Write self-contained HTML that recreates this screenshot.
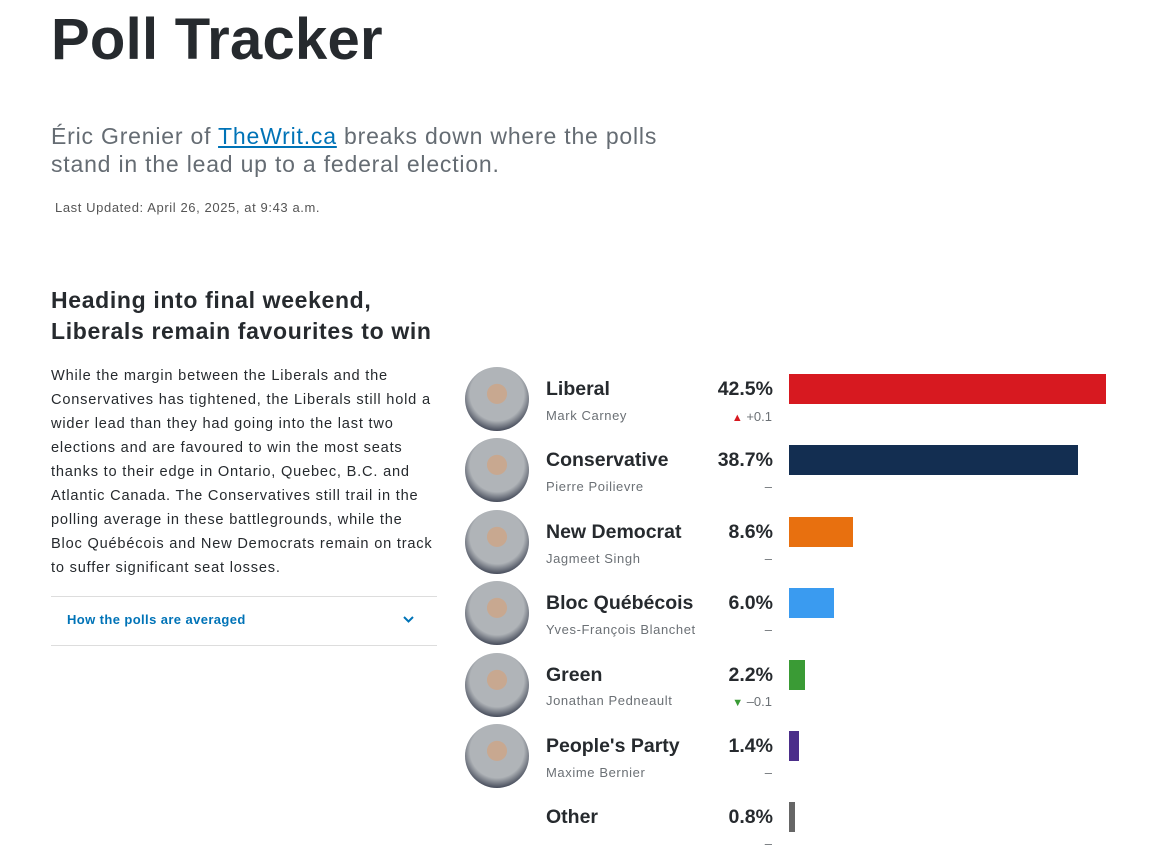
<!DOCTYPE html>
<html><head><meta charset="utf-8"><style>
body{margin:0;width:1152px;height:856px;background:#fff;font-family:"Liberation Sans",sans-serif;color:#262a2e;position:relative;overflow:hidden}
.a{position:absolute;white-space:nowrap}
h1{position:absolute;left:51px;top:6px;margin:0;font-size:58px;font-weight:bold;letter-spacing:0.25px;color:#262a2e}
.sub{left:51px;top:122px;font-size:23px;line-height:28px;color:#656c73;letter-spacing:0.8px}
.sub a{color:#0073b7;text-decoration:underline}
.upd{left:55px;top:200px;font-size:13px;color:#555;letter-spacing:0.6px}
.hd{left:51px;top:285px;font-size:23px;line-height:31px;font-weight:bold;letter-spacing:0.65px}
.body{left:51px;top:364px;font-size:14.6px;line-height:24px;color:#262a2e;letter-spacing:0.8px}
.line{position:absolute;left:51px;width:386px;height:1px;background:#ddd}
.how{left:67px;top:612px;font-size:13px;font-weight:bold;color:#0073b7;letter-spacing:0.4px}
.av{position:absolute;left:465px;width:64px;height:64px;border-radius:50%;background:radial-gradient(circle at 50% 42%,#c8a890 0 20%,#b0b4b8 21% 55%,#3a4050 78%);}
.pn{position:absolute;left:546px;font-size:19.5px;font-weight:bold}
.nm{position:absolute;left:546px;font-size:13px;color:#6b7075;letter-spacing:0.6px}
.pc{position:absolute;right:379px;font-size:19.5px;font-weight:bold;text-align:right}
.ch{position:absolute;right:380px;font-size:13px;color:#6b7075;text-align:right}
.bar{position:absolute;left:789px;height:30px}
</style></head><body>
<h1>Poll Tracker</h1>
<div class="a sub">Éric Grenier of <a>TheWrit.ca</a> breaks down where the polls<br>stand in the lead up to a federal election.</div>
<div class="a upd">Last Updated: April 26, 2025, at 9:43 a.m.</div>
<div class="a hd">Heading into final weekend,<br>Liberals remain favourites to win</div>
<div class="a body">While the margin between the Liberals and the<br>Conservatives has tightened, the Liberals still hold a<br>wider lead than they had going into the last two<br>elections and are favoured to win the most seats<br>thanks to their edge in Ontario, Quebec, B.C. and<br>Atlantic Canada. The Conservatives still trail in the<br>polling average in these battlegrounds, while the<br>Bloc Québécois and New Democrats remain on track<br>to suffer significant seat losses.</div>
<div class="line" style="top:596px"></div>
<div class="line" style="top:645px"></div>
<div class="a how">How the polls are averaged</div>
<svg class="a" style="left:402px;top:615px" width="13" height="10"><path d="M2 2l4.5 4.5L11 2" stroke="#0073b7" stroke-width="2" fill="none"/></svg>

<div class="av" style="top:367px"></div>
<div class="pn" style="top:378px">Liberal</div><div class="nm" style="top:408px">Mark Carney</div>
<div class="pc" style="top:378px">42.5%</div><div class="ch" style="top:409px"><span style="color:#d71920;font-size:11px">▲</span> +0.1</div>
<div class="bar" style="top:374px;width:317px;background:#d71920"></div>

<div class="av" style="top:438px"></div>
<div class="pn" style="top:449px">Conservative</div><div class="nm" style="top:479px">Pierre Poilievre</div>
<div class="pc" style="top:449px">38.7%</div><div class="ch" style="top:479px">–</div>
<div class="bar" style="top:445px;width:289px;background:#132e51"></div>

<div class="av" style="top:510px"></div>
<div class="pn" style="top:521px">New Democrat</div><div class="nm" style="top:551px">Jagmeet Singh</div>
<div class="pc" style="top:521px">8.6%</div><div class="ch" style="top:551px">–</div>
<div class="bar" style="top:517px;width:64px;background:#e8700f"></div>

<div class="av" style="top:581px"></div>
<div class="pn" style="top:592px">Bloc Québécois</div><div class="nm" style="top:622px">Yves-François Blanchet</div>
<div class="pc" style="top:592px">6.0%</div><div class="ch" style="top:622px">–</div>
<div class="bar" style="top:588px;width:45px;background:#3a9bf0"></div>

<div class="av" style="top:653px"></div>
<div class="pn" style="top:664px">Green</div><div class="nm" style="top:693px">Jonathan Pedneault</div>
<div class="pc" style="top:664px">2.2%</div><div class="ch" style="top:694px"><span style="color:#3a9b35;font-size:11px">▼</span> –0.1</div>
<div class="bar" style="top:660px;width:16px;background:#3a9b35"></div>

<div class="av" style="top:724px"></div>
<div class="pn" style="top:735px">People's Party</div><div class="nm" style="top:765px">Maxime Bernier</div>
<div class="pc" style="top:735px">1.4%</div><div class="ch" style="top:765px">–</div>
<div class="bar" style="top:731px;width:10px;background:#4b2e8a"></div>

<div class="pn" style="top:806px">Other</div>
<div class="pc" style="top:806px">0.8%</div><div class="ch" style="top:836px">–</div>
<div class="bar" style="top:802px;width:6px;background:#666"></div>
</body></html>
